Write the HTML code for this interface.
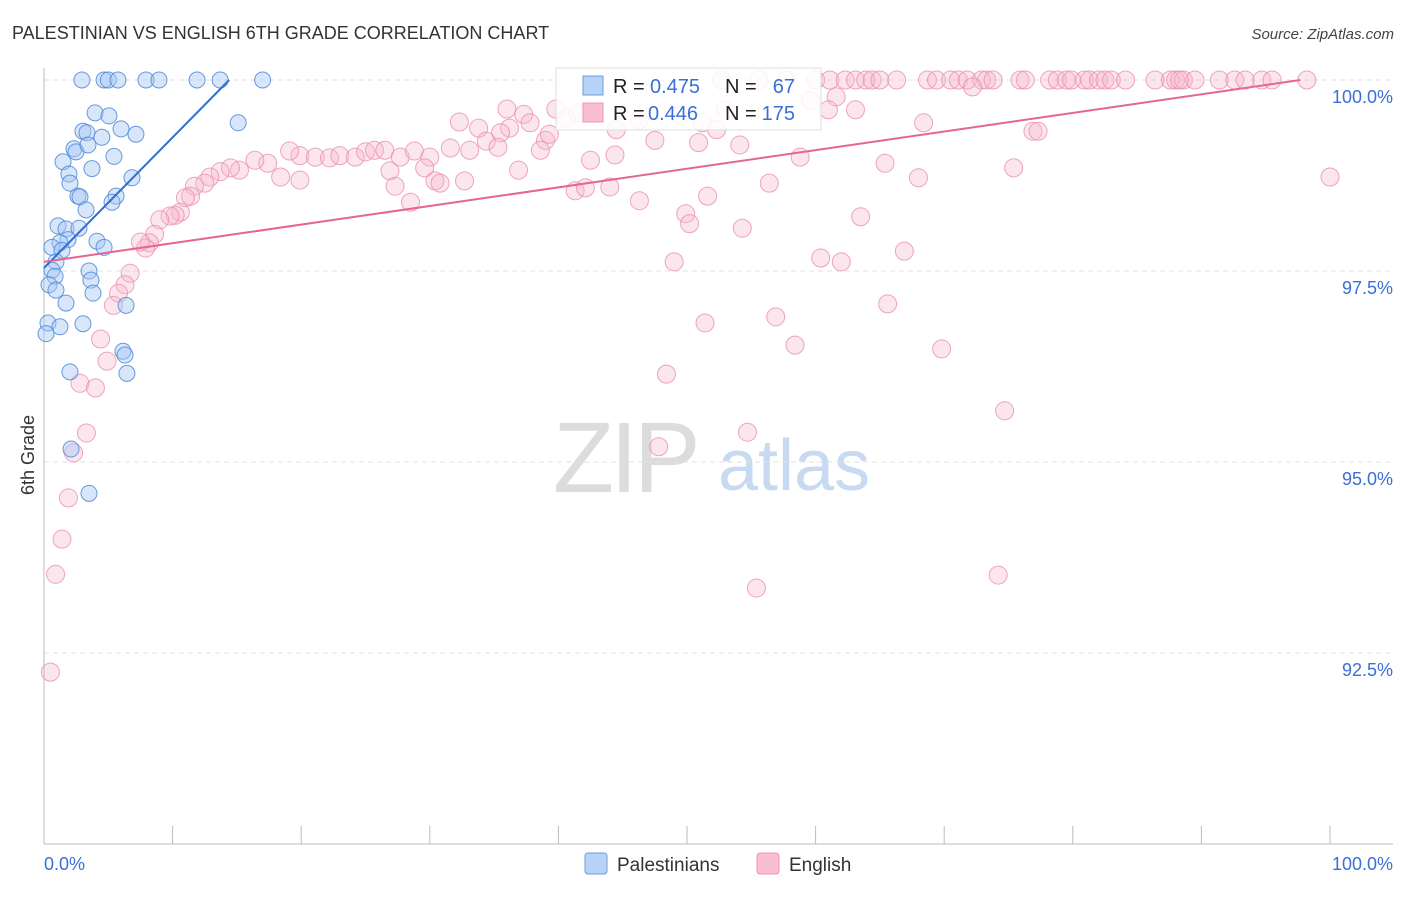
<!DOCTYPE html>
<html><head><meta charset="utf-8"><style>
body{margin:0;background:#fff;width:1406px;height:892px;overflow:hidden;font-family:"Liberation Sans",sans-serif}
svg text{font-family:"Liberation Sans",sans-serif}
</style></head><body>
<svg id="chart" width="1406" height="892">
<text x="12" y="39" font-size="18" fill="#333">PALESTINIAN VS ENGLISH 6TH GRADE CORRELATION CHART</text>
<text x="1394" y="39" font-size="15" fill="#444" font-style="italic" text-anchor="end">Source: ZipAtlas.com</text>
<text transform="translate(34,455) rotate(-90)" font-size="18" fill="#333" text-anchor="middle">6th Grade</text>
<g><text x="553" y="492" font-size="100" fill="#dcdcdc" font-family="Liberation Serif" letter-spacing="-4">ZIP</text><text x="718" y="490" font-size="72" fill="#c8daf2">atlas</text></g>
<g id="grid"></g><g id="marks"></g><g id="lines"></g>
<g>
<rect x="556" y="68" width="265" height="62" fill="#fff" fill-opacity="0.85" stroke="#ddd"/>
<rect x="583" y="76" width="20" height="19" fill="#b7d2f6" stroke="#6b9de0"/>
<rect x="583" y="103" width="20" height="19" fill="#f9bfd0" stroke="#ec95b1"/>
<text x="613" y="93" font-size="20" fill="#222">R =</text><text x="650" y="93" font-size="20" fill="#3a6fd8">0.475</text>
<text x="725" y="93" font-size="20" fill="#222">N =</text><text x="795" y="93" font-size="20" fill="#3a6fd8" text-anchor="end">67</text>
<text x="613" y="120" font-size="20" fill="#222">R =</text><text x="648" y="120" font-size="20" fill="#3a6fd8">0.446</text>
<text x="725" y="120" font-size="20" fill="#222">N =</text><text x="795" y="120" font-size="20" fill="#3a6fd8" text-anchor="end">175</text>
</g>
<g>
<rect x="585" y="853" width="22" height="21" rx="3" fill="#b7d2f6" stroke="#6b9de0"/>
<text x="617" y="871" font-size="19" fill="#333">Palestinians</text>
<rect x="757" y="853" width="22" height="21" rx="3" fill="#f9bfd0" stroke="#ec95b1"/>
<text x="789" y="871" font-size="19" fill="#333">English</text>
</g>
</svg>
<script>
const yTicks=[100,97.5,95,92.5];
const yTickLabels=["100.0%","97.5%","95.0%","92.5%"];
const xEndLabels=["0.0%","100.0%"];
const blueX=[2.95,4.67,5.0,5.75,7.93,8.94,11.9,13.7,17.0,3.97,5.05,5.99,3.03,3.34,4.5,7.15,15.1,2.33,2.49,3.42,5.44,1.48,3.73,1.94,6.84,2.02,2.64,2.8,5.6,5.29,3.27,1.09,1.71,2.72,1.87,4.12,1.24,4.67,0.62,1.40,0.93,0.62,3.5,0.86,3.65,0.39,0.93,3.81,1.71,6.38,0.31,1.24,3.03,0.16,6.14,6.3,2.02,6.45,2.1,3.5];
const blueY=[100,100,100,100,100,100,100,100,100,99.57,99.53,99.36,99.33,99.31,99.25,99.29,99.44,99.10,99.06,99.15,99.0,98.93,98.84,98.77,98.72,98.65,98.48,98.47,98.48,98.40,98.30,98.09,98.05,98.06,97.91,97.89,97.87,97.81,97.81,97.77,97.62,97.51,97.50,97.43,97.38,97.32,97.25,97.21,97.08,97.05,96.82,96.77,96.81,96.68,96.45,96.40,96.18,96.16,95.17,94.59];
const pinkX=[52.7,55.6,57.7,60.0,61.1,62.3,63.1,63.9,64.4,65.0,66.3,68.7,69.4,70.5,71.1,71.8,72.9,73.3,73.8,75.9,76.3,78.2,78.8,79.5,79.9,80.9,81.3,82.0,82.5,83.0,84.1,86.4,87.6,88.0,88.6,89.5,91.4,92.6,93.4,94.7,95.5,98.2,88.3,72.2,
39.8,40.6,41.5,36.0,37.3,32.3,33.8,36.2,37.8,39.0,39.3,35.5,34.4,44.5,46.3,49.5,51.2,52.3,53.0,59.6,61.6,61.0,63.1,68.4,76.9,77.3,50.9,
19.9,21.1,22.2,23.0,24.2,25.0,25.7,26.5,27.7,28.8,30.0,31.6,33.1,35.3,38.6,42.5,44.4,47.5,54.1,58.8,65.4,68.0,75.4,100,
19.1,17.4,16.4,15.2,14.5,13.7,12.9,12.5,11.7,11.4,11.0,10.6,10.2,9.8,9.0,8.6,8.2,7.9,7.5,
18.4,19.9,26.9,27.3,28.5,29.6,30.4,30.8,32.7,36.9,41.3,42.1,44.0,46.3,49.9,50.2,51.6,54.3,56.4,63.5,
6.7,6.3,5.8,5.4,4.4,4.9,2.8,4.0,3.3,2.3,1.9,1.4,0.9,0.5,49.0,60.4,62.0,66.9,51.4,56.9,58.4,65.6,69.8,48.4,74.7,54.7,47.8,55.4,74.2];
const pinkY=[100,100,100,100,100,100,100,100,100,100,100,100,100,100,100,100,100,100,100,100,100,100,100,100,100,100,100,100,100,100,100,100,100,100,100,100,100,100,100,100,100,100,100,99.91,
99.62,99.50,99.57,99.62,99.55,99.45,99.37,99.37,99.44,99.21,99.29,99.31,99.20,99.35,99.48,99.54,99.44,99.35,99.61,99.73,99.78,99.61,99.61,99.44,99.33,99.33,99.18,
99.01,98.99,98.98,99.01,98.99,99.06,99.08,99.08,98.99,99.07,98.99,99.11,99.08,99.12,99.08,98.95,99.02,99.21,99.15,98.99,98.91,98.72,98.85,98.73,
99.07,98.91,98.95,98.82,98.85,98.80,98.73,98.65,98.61,98.48,98.46,98.27,98.23,98.22,98.17,97.98,97.87,97.80,97.88,
98.73,98.69,98.81,98.61,98.40,98.85,98.68,98.65,98.68,98.82,98.55,98.59,98.60,98.42,98.25,98.12,98.48,98.06,98.65,98.21,
97.47,97.32,97.21,97.05,96.61,96.32,96.03,95.97,95.38,95.12,94.53,93.99,93.53,92.25,97.62,97.67,97.62,97.76,96.82,96.90,96.53,97.07,96.48,96.15,95.67,95.39,95.20,93.35,93.52];
const blueTrend=[[0,97.54],[14.4,100]];
const pinkTrend=[[0,97.62],[97.7,100]];
const NS="http://www.w3.org/2000/svg";
const X=v=>44+v*12.86, Y=v=>80+(100-v)*76.4;
function mk(t,a,p){const e=document.createElementNS(NS,t);for(const k in a)e.setAttribute(k,a[k]);p.appendChild(e);return e;}
const grid=document.getElementById('grid'),marks=document.getElementById('marks'),lines=document.getElementById('lines');
yTicks.forEach((v,i)=>{
 const l=mk('line',{x1:44,x2:1393,y1:Y(v),y2:Y(v),stroke:'#e2e2e2','stroke-dasharray':'5,4'},grid);
 
 
 const t=mk('text',{x:1393,y:Y(v)+23,'font-size':18,fill:'#3a6fd8','text-anchor':'end'},grid);t.textContent=yTickLabels[i];
 
 
});
const ax=mk('line',{x1:44,x2:1393,y1:Y(90),y2:Y(90),stroke:'#bbb'},grid);


const ay=mk('line',{x1:44,x2:44,y1:68,y2:Y(90),stroke:'#bbb'},grid);


for(let i=0;i<=10;i++){const tk=mk('line',{x1:X(i*10),x2:X(i*10),y1:Y(90)-18,y2:Y(90),stroke:'#bbb'},grid);
 
 }
[[0,'start',44],[100,'end',1393]].forEach((d,i)=>{const t=mk('text',{x:d[2],y:870,'font-size':18,fill:'#3a6fd8','text-anchor':d[1]},grid);t.textContent=xEndLabels[i];
 
 });
pinkX.forEach((v,i)=>{const c=mk('circle',{cx:X(v),cy:Y(pinkY[i]),r:9,fill:'#f7b6ca','fill-opacity':0.35,stroke:'#ea8fae','stroke-opacity':0.8,'stroke-width':1},marks);
 
 });
blueX.forEach((v,i)=>{const c=mk('circle',{cx:X(v),cy:Y(blueY[i]),r:8,fill:'#a9c8f2','fill-opacity':0.45,stroke:'#4f88da','stroke-opacity':0.85,'stroke-width':1},marks);
 
 });
const bl=mk('line',{x1:X(blueTrend[0][0]),y1:Y(blueTrend[0][1]),x2:X(blueTrend[1][0]),y2:Y(blueTrend[1][1]),stroke:'#2d6fd6','stroke-width':2},lines);


const pl=mk('line',{x1:X(pinkTrend[0][0]),y1:Y(pinkTrend[0][1]),x2:X(pinkTrend[1][0]),y2:Y(pinkTrend[1][1]),stroke:'#e6668f','stroke-width':2},lines);


</script>
</body></html>
